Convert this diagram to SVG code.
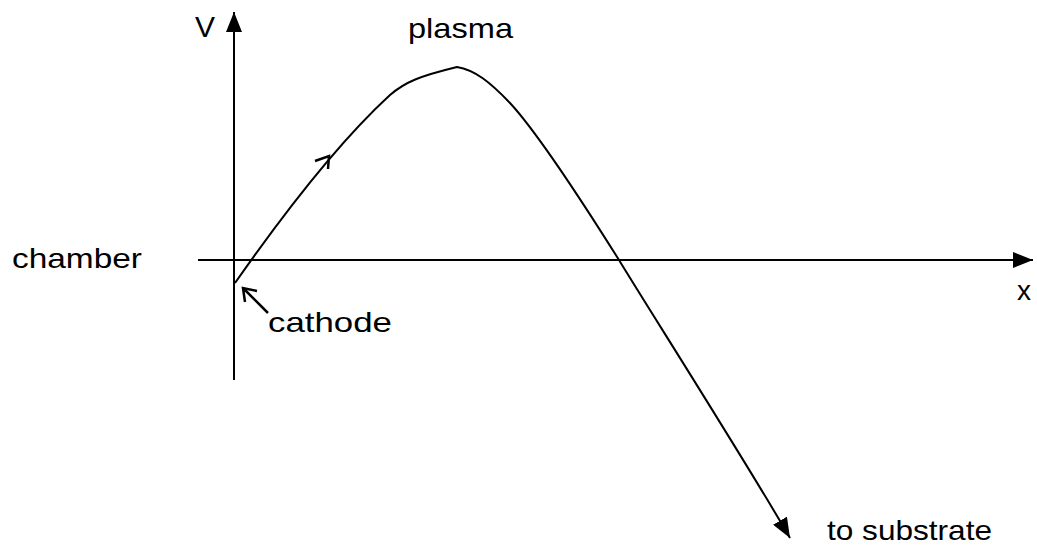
<svg xmlns="http://www.w3.org/2000/svg" width="1037" height="549" viewBox="0 0 1037 549">
<style>
text{font-family:"Liberation Sans",Arial,sans-serif;font-size:28px;fill:#000}
.ln{fill:none;stroke:#000;stroke-width:2;stroke-linejoin:round;stroke-linecap:butt}
.open{fill:none;stroke:#000;stroke-width:2.5;stroke-linejoin:miter;stroke-linecap:butt}
</style>
<defs>
<marker id="ah" viewBox="0 0 20 16" refX="20" refY="8" markerWidth="20" markerHeight="16" markerUnits="userSpaceOnUse" orient="auto">
<path d="M0,0 L20,8 L0,16 Z" fill="#000"/>
</marker>
</defs>
<rect width="1037" height="549" fill="#fff"/>
<g id="connectors">
<path id="v-axis" class="ln" d="M234,380 L234,12" marker-end="url(#ah)"/>
<path id="x-axis" class="ln" d="M198,260 L1033,260" marker-end="url(#ah)"/>
<path id="curve" class="ln" d="M235,283 C270,233 330,150 390,95 C405,82 420,76 457,67 C475,70 490,82 510,103 C535,130 575,190 619,260 C645,303 745,460 790,538" marker-end="url(#ah)"/>
<path id="curve-arrow" class="open" d="M315,161 L329,156 L328,169"/>
<path id="cathode-arrow" class="open" d="M268,313 L243,288 M245,302 L243,288 L257,291"/>
</g>
<g id="label-V"><text x="195" y="37" font-size="30" style="font-size:30px">V</text></g>
<g id="label-plasma"><text x="408" y="38" textLength="105" lengthAdjust="spacingAndGlyphs">plasma</text></g>
<g id="label-chamber"><text x="12" y="268" textLength="130" lengthAdjust="spacingAndGlyphs">chamber</text></g>
<g id="label-x"><text x="1017" y="300">x</text></g>
<g id="label-cathode"><text x="268" y="332" textLength="124" lengthAdjust="spacingAndGlyphs">cathode</text></g>
<g id="label-substrate"><text x="827" y="540" textLength="165" lengthAdjust="spacingAndGlyphs">to substrate</text></g>
</svg>
